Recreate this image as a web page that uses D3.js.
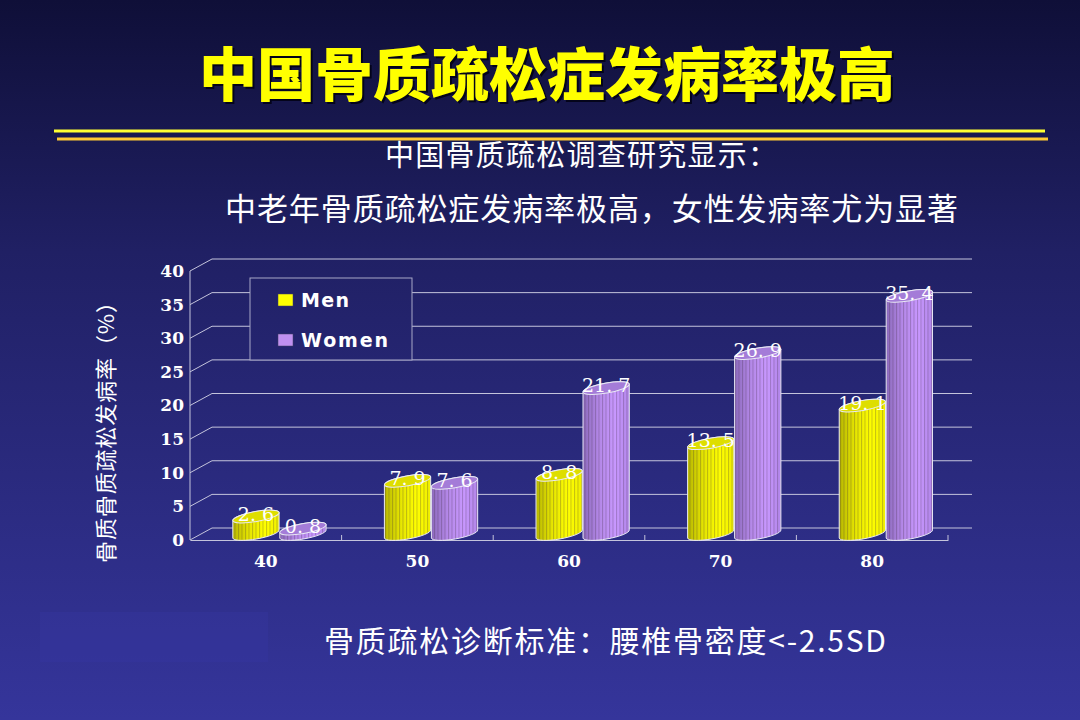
<!DOCTYPE html>
<html>
<head>
<meta charset="utf-8">
<script src="https://cdn.jsdelivr.net/npm/d3@7"></script>
<style>
  html, body { margin: 0; padding: 0; background: #1a1a55; }
  svg { display: block; }
</style>
</head>
<body>
<script>
var width = 1080;
var height = 720;

// data
var categories = ["40", "50", "60", "70", "80"];
var series = ["Men", "Women"];
var menValues = [2.6, 7.9, 8.8, 13.5, 19.1];
var womenValues = [0.8, 7.6, 21.7, 26.9, 35.4];
var yTicks = [0, 5, 10, 15, 20, 25, 30, 35, 40];

var titleText = "中国骨质疏松症发病率极高";
var subText1 = "中国骨质疏松调查研究显示：";
var subText2 = "中老年骨质疏松症发病率极高，女性发病率尤为显著";
var footText = "骨质疏松诊断标准：腰椎骨密度<-2.5SD";
var yAxisText = "骨质骨质疏松发病率（%）";

var colors = {Men: "#ffff00", Women: "#c090f0"};

// depth of the 3d box
var depthX = 22, depthY = -12;

var svg = d3.select("body").append("svg")
  .attr("width", width)
  .attr("height", height);

var defs = svg.append("defs");

var bg = defs.append("linearGradient")
  .attr("id", "bg")
  .attr("gradientUnits", "userSpaceOnUse")
  .attr("x1", 0).attr("y1", 0).attr("x2", 0).attr("y2", height);
bg.append("stop").attr("offset", "0%").attr("stop-color", "#0f0f38");
bg.append("stop").attr("offset", "35%").attr("stop-color", "#202064");
bg.append("stop").attr("offset", "100%").attr("stop-color", "#35359b");

// body shading for cylinders
var shades = {
  Men: ["#b8b800", "#e6e600", "#ffff00", "#f0f000"],
  Women: ["#8c6abc", "#b488e8", "#c898ff", "#b286ea"]
};
series.forEach(function(s) {
  var g = defs.append("linearGradient")
    .attr("id", "body" + s)
    .attr("x1", 0).attr("y1", 0).attr("x2", 1).attr("y2", 0);
  [0, 35, 70, 100].forEach(function(o, i) {
    g.append("stop").attr("offset", o + "%").attr("stop-color", shades[s][i]);
  });
});

// vertical stripes on the cylinders
var stripes = defs.append("pattern")
  .attr("id", "stripes")
  .attr("patternUnits", "userSpaceOnUse")
  .attr("width", 3.5).attr("height", 10);
stripes.append("rect")
  .attr("width", 1).attr("height", 10)
  .attr("fill", "rgba(60,40,60,0.28)");

svg.append("rect")
  .attr("width", width).attr("height", height)
  .attr("fill", "url(#bg)");

// faint box at bottom left of the slide
svg.append("rect")
  .attr("x", 40).attr("y", 612).attr("width", 228).attr("height", 50)
  .attr("fill", "#3838a4").attr("opacity", 0.3);

// title
svg.append("text")
  .attr("x", 549).attr("y", 98)
  .attr("text-anchor", "middle")
  .attr("font-family", "Noto Sans CJK SC")
  .attr("font-weight", 900)
  .attr("font-size", 58)
  .attr("fill", "#000010")
  .attr("opacity", 0.8)
  .text(titleText);
svg.append("text")
  .attr("x", 547).attr("y", 96)
  .attr("text-anchor", "middle")
  .attr("font-family", "Noto Sans CJK SC")
  .attr("font-weight", 900)
  .attr("font-size", 58)
  .attr("fill", "#ffff00")
  .text(titleText);

svg.append("line")
  .attr("x1", 54).attr("x2", 1045).attr("y1", 131).attr("y2", 131)
  .attr("stroke", "#ffff33").attr("stroke-width", 3);
svg.append("line")
  .attr("x1", 57).attr("x2", 1048).attr("y1", 139).attr("y2", 139)
  .attr("stroke", "#ffc933").attr("stroke-width", 3);

svg.append("text")
  .attr("x", 385).attr("y", 166)
  .attr("font-family", "Noto Sans CJK SC")
  .attr("font-size", 29)
  .attr("fill", "#ffffff")
  .attr("textLength", 392)
  .text(subText1);

svg.append("text")
  .attr("x", 225).attr("y", 220)
  .attr("font-family", "Noto Sans CJK SC")
  .attr("font-size", 31)
  .attr("fill", "#ffffff")
  .attr("textLength", 733)
  .text(subText2);

svg.append("text")
  .attr("x", 324).attr("y", 652)
  .attr("font-family", "Noto Sans CJK SC")
  .attr("font-size", 30)
  .attr("fill", "#ffffff")
  .attr("textLength", 562)
  .text(footText);

// scales
var x = d3.scaleBand()
  .domain(categories)
  .range([190, 948]);

var xs = d3.scaleBand()
  .domain(series)
  .range([x.bandwidth() * 0.28, x.bandwidth() * 0.9]);

var y = d3.scaleLinear()
  .domain([0, 40])
  .range([540, 271]);

var chart = svg.append("g");
var gridColor = "#c4c4dc";

// back wall grid
chart.selectAll(".grid")
  .data(yTicks)
  .enter()
  .append("line")
  .attr("x1", 190 + depthX)
  .attr("x2", 972)
  .attr("y1", function(d) { return y(d) + depthY; })
  .attr("y2", function(d) { return y(d) + depthY; })
  .attr("stroke", gridColor)
  .attr("stroke-width", 1);

// side wall diagonals
chart.selectAll(".side")
  .data(yTicks)
  .enter()
  .append("line")
  .attr("x1", 190)
  .attr("x2", 190 + depthX)
  .attr("y1", function(d) { return y(d); })
  .attr("y2", function(d) { return y(d) + depthY; })
  .attr("stroke", gridColor)
  .attr("stroke-width", 1);

chart.append("line")
  .attr("x1", 190).attr("x2", 190)
  .attr("y1", y(0)).attr("y2", y(40))
  .attr("stroke", gridColor);

// front category axis
var xAxis = chart.append("g")
  .attr("transform", "translate(0," + y(0) + ")")
  .call(d3.axisBottom(x).tickSize(0).tickPadding(15).tickFormat(function(d) { return d; }));
xAxis.select(".domain").attr("stroke", gridColor);
xAxis.selectAll("text")
  .attr("fill", "#ffffff")
  .attr("font-family", "DejaVu Serif")
  .attr("font-weight", "bold")
  .attr("font-size", 17);

chart.selectAll(".xtick")
  .data(categories)
  .enter()
  .append("line")
  .attr("x1", function(d) { return x(d) + x.bandwidth(); })
  .attr("x2", function(d) { return x(d) + x.bandwidth(); })
  .attr("y1", y(0))
  .attr("y2", y(0) - 5)
  .attr("stroke", gridColor);

// value axis labels
var yAxis = chart.append("g")
  .attr("transform", "translate(190,0)")
  .call(d3.axisLeft(y).tickValues(yTicks).tickSize(0).tickPadding(6));
yAxis.select(".domain").remove();
yAxis.selectAll("text")
  .attr("fill", "#ffffff")
  .attr("font-family", "DejaVu Serif")
  .attr("font-weight", "bold")
  .attr("font-size", 17);

svg.append("text")
  .attr("transform", "translate(114,427) rotate(-90)")
  .attr("text-anchor", "middle")
  .attr("font-family", "Noto Sans CJK SC")
  .attr("font-size", 22)
  .attr("fill", "#ffffff")
  .attr("textLength", 272)
  .text(yAxisText);

// bars as cylinders
var bars = [];
categories.forEach(function(c, i) {
  bars.push({cat: c, s: "Men", v: menValues[i]});
  bars.push({cat: c, s: "Women", v: womenValues[i]});
});

var tilt = -10 * Math.PI / 180;
var ry = 5;

function geom(d) {
  var rx = xs.bandwidth() / 2;
  var cx = x(d.cat) + xs(d.s) + rx;
  var top = y(d.v) + depthY / 2;
  var bot = y(0) + depthY / 2;
  return {rx: rx, cx: cx, top: top, bot: bot,
          ex: rx * Math.cos(tilt), ey: rx * Math.sin(tilt)};
}

function bodyPath(d) {
  var g = geom(d);
  var rot = tilt * 180 / Math.PI;
  var lx = g.cx - g.ex, rxp = g.cx + g.ex;
  return "M" + lx + "," + (g.top - g.ey) +
    "L" + lx + "," + (g.bot - g.ey) +
    "A" + g.rx + "," + ry + " " + rot + " 0 0 " + rxp + "," + (g.bot + g.ey) +
    "L" + rxp + "," + (g.top + g.ey) +
    "A" + g.rx + "," + ry + " " + rot + " 0 0 " + lx + "," + (g.top - g.ey) + "Z";
}

var cyl = chart.selectAll(".cyl")
  .data(bars)
  .enter()
  .append("g");

cyl.append("path")
  .attr("d", bodyPath)
  .attr("fill", function(d) { return "url(#body" + d.s + ")"; });

cyl.append("path")
  .attr("d", bodyPath)
  .attr("fill", "url(#stripes)")
  .attr("stroke", "#e8e8f4")
  .attr("stroke-width", 1);

cyl.append("ellipse")
  .attr("cx", function(d) { return geom(d).cx; })
  .attr("cy", function(d) { return geom(d).top; })
  .attr("rx", function(d) { return geom(d).rx; })
  .attr("ry", ry)
  .attr("transform", function(d) {
    var g = geom(d);
    return "rotate(" + (tilt * 180 / Math.PI) + "," + g.cx + "," + g.top + ")";
  })
  .attr("fill", function(d) { return d.s == "Men" ? "#dede00" : "#a47cd8"; })
  .attr("stroke", "#e8e8f4")
  .attr("stroke-width", 1);

cyl.append("text")
  .attr("x", function(d) { return geom(d).cx; })
  .attr("y", function(d) { return geom(d).top + 4; })
  .attr("text-anchor", "middle")
  .attr("font-family", "DejaVu Serif")
  .attr("font-size", 19)
  .attr("fill", "#ffffff")
  .text(function(d) { return d.v.toFixed(1).replace(".", ". "); });

// legend
var legend = svg.append("g");
legend.append("rect")
  .attr("x", 250).attr("y", 278).attr("width", 162).attr("height", 82)
  .attr("fill", "url(#bg)")
  .attr("stroke", "#a8a8c8");

var items = legend.selectAll(".item")
  .data(series)
  .enter()
  .append("g")
  .attr("transform", function(d, i) { return "translate(278," + (294 + i * 40) + ")"; });

items.append("rect")
  .attr("width", 15).attr("height", 12)
  .attr("fill", function(d) { return colors[d]; })
  .attr("stroke", "#404060")
  .attr("stroke-width", 0.5);

items.append("text")
  .attr("x", 23).attr("y", 13)
  .attr("font-family", "DejaVu Sans")
  .attr("font-weight", "bold")
  .attr("font-size", 19)
  .attr("fill", "#ffffff")
  .attr("textLength", function(d) { return d == "Men" ? 48 : 87; })
  .text(function(d) { return d; });
</script>
</body>
</html>
